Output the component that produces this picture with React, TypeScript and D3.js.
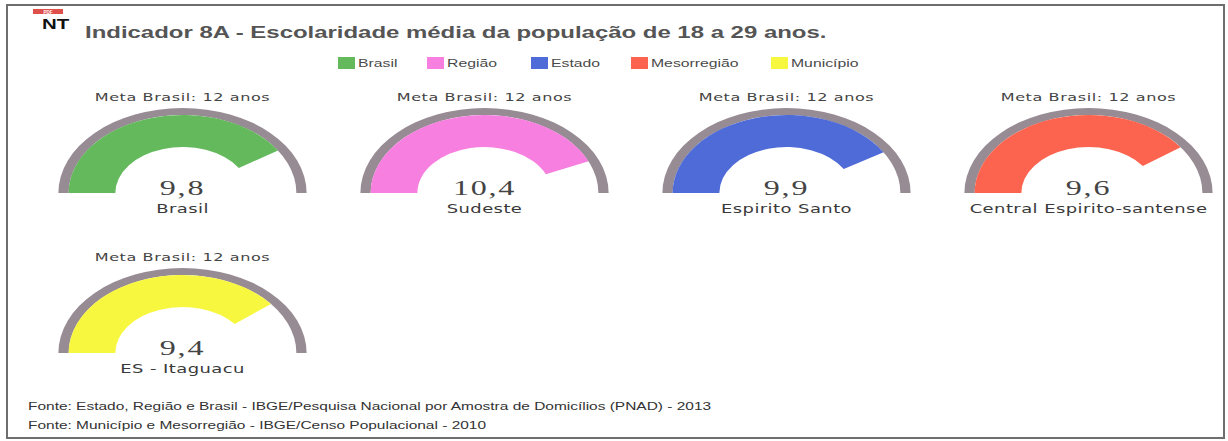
import React from "react";
import * as d3 from "d3";

const titleText = "Indicador 8A - Escolaridade média da população de 18 a 29 anos.";
const legendLevels = ["Brasil", "Região", "Estado", "Mesorregião", "Município"];
const levelColors = ["#63b95c", "#f77fdf", "#4f6bd8", "#fd644f", "#f8f73f"];
const gaugeNames = ["Brasil", "Sudeste", "Espirito Santo", "Central Espirito-santense", "ES - Itaguacu"];
const gaugeValues = [9.8, 10.4, 9.9, 9.6, 9.4];
const goalValue = 12;
const goalLabel = "Meta Brasil: 12 anos";
const footerLines = [
  "Fonte: Estado, Região e Brasil - IBGE/Pesquisa Nacional por Amostra de Domicílios (PNAD) - 2013",
  "Fonte: Município e Mesorregião - IBGE/Censo Populacional - 2010",
];

const W = 1228;
const H = 441;
const SX = 1.46; // horizontal stretch of the original picture
const R = 85;
const TRACK_IN = 78;
const HOLE = 46;
const SANS = "'Liberation Sans', Arial, sans-serif";
const GAUGE_FONT = "'DejaVu Sans', sans-serif";
const SERIF = "'Liberation Serif', 'DejaVu Serif', serif";

function SText(props: any) {
  const { x, y, children, anchor = "start", ...rest } = props;
  return (
    <text transform={`translate(${x},${y}) scale(${SX},1)`} textAnchor={anchor} {...rest}>
      {children}
    </text>
  );
}

export default function App() {
  const angle = d3.scaleLinear().domain([0, goalValue]).range([-Math.PI / 2, Math.PI / 2]);
  const trackArc = d3.arc<any>().innerRadius(TRACK_IN).outerRadius(R).startAngle(-Math.PI / 2).endAngle(Math.PI / 2);
  const fillArc = d3.arc<any>().innerRadius(HOLE).outerRadius(TRACK_IN).startAngle(-Math.PI / 2);
  const fmt = (v: number) => d3.format(".1f")(v).replace(".", ",");

  const colX = d3.scaleLinear().domain([0, 1]).range([182.5, 484.5]);
  const rowY = d3.scaleLinear().domain([0, 1]).range([193, 353]);

  const legendX = [338, 427, 531, 631, 771];

  return (
    <svg width={W} height={H} style={{ position: "absolute", left: 0, top: 0, background: "#fff" }}>
      <rect x={0} y={0} width={W} height={H} fill="#fff" />
      <rect x={7} y={5} width={1217} height={433} fill="none" stroke="#6e6e6e" strokeWidth={2} />

      {/* pdf badge */}
      <rect x={33} y={9} width={30} height={5} fill="#e0504a" />
      <text x={48} y={13.5} fontSize={4.5} fill="#fff" textAnchor="middle" fontFamily={SANS} fontWeight="bold">PDF</text>

      <SText x={42} y={29} fontFamily={SANS} fontWeight="bold" fontSize={14} fill="#111">NT</SText>
      <SText x={85} y={38} fontFamily={SANS} fontWeight="bold" fontSize={16.4} fill="#555">{titleText}</SText>

      {legendLevels.map((lv, i) => (
        <g key={lv}>
          <rect x={legendX[i]} y={57} width={17} height={12} fill={levelColors[i]} />
          <SText x={legendX[i] + 20} y={67} fontFamily={SANS} fontSize={10.8} fill="#4a4a4a">{lv}</SText>
        </g>
      ))}

      {gaugeValues.map((v, i) => {
        const cx = colX(i % 4);
        const by = rowY(Math.floor(i / 4));
        return (
          <g key={gaugeNames[i]}>
            <g transform={`translate(${cx},${by}) scale(${SX},1)`}>
              <path d={trackArc({}) as string} fill="#978b94" />
              <path d={fillArc({ endAngle: angle(v) }) as string} fill={levelColors[i]} />
            </g>
            <SText x={cx} y={by - 92} anchor="middle" fontFamily={GAUGE_FONT} fontSize={11} fill="#444" letterSpacing={0.4}>{goalLabel}</SText>
            <SText x={cx} y={by + 2} anchor="middle" fontFamily={SERIF} fontSize={22} fill="#444" letterSpacing={1.2}>{fmt(v)}</SText>
            <SText x={cx} y={by + 20} anchor="middle" fontFamily={GAUGE_FONT} fontSize={12.3} fill="#3a3a3a" letterSpacing={0.3}>{gaugeNames[i]}</SText>
          </g>
        );
      })}

      {footerLines.map((t, i) => (
        <SText key={i} x={28} y={410 + i * 19} fontFamily={SANS} fontSize={10.6} fill="#333">{t}</SText>
      ))}
    </svg>
  );
}
